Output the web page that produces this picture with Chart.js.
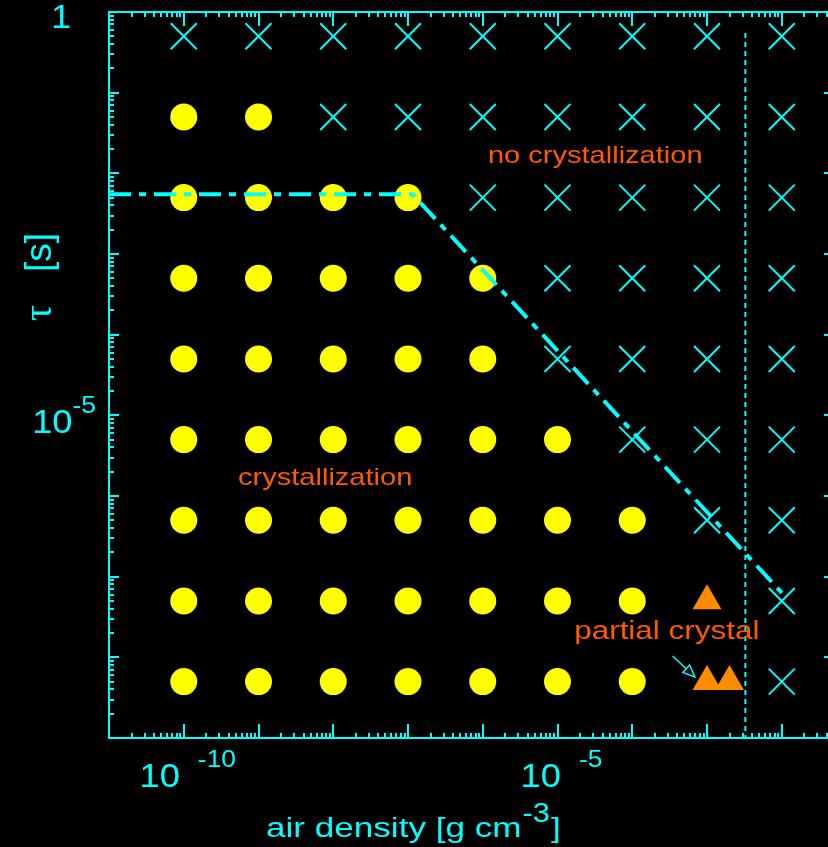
<!doctype html>
<html>
<head>
<meta charset="utf-8">
<title>Crystallization vs air density</title>
<script src="https://cdn.jsdelivr.net/npm/chart.js@4.4.0/dist/chart.umd.min.js"></script>
<style>
html, body { margin: 0; padding: 0; background: #000; overflow: hidden; }
#wrap { width: 850px; height: 847px; }
</style>
</head>
<body>
<div id="wrap"><canvas id="canvas" width="850" height="847"></canvas></div>
<script>
// run grid: densities (g cm^-3) and timescales tau (s)
var densities = [1e-10, 1e-9, 1e-8, 1e-7, 1e-6, 1e-5, 1e-4, 1e-3, 1e-2];
var taus = [5e-1, 5e-2, 5e-3, 5e-4, 5e-5, 5e-6, 5e-7, 5e-8, 5e-9];
// one row per tau, one char per density: o = crystallization, x = none, . = see partial list
var outcomes = [
    'xxxxxxxxx',
    'ooxxxxxxx',
    'ooooxxxxx',
    'oooooxxxx',
    'oooooxxxx',
    'ooooooxxx',
    'oooooooxx',
    'ooooooo.x',
    'ooooooo.x'
];
var partialRho = [1e-3, 1e-3, 2e-3];
var partialTau = [5e-8, 5e-9, 5e-9];

// boundary between the two regimes (dash-dot)
var boundaryRho = [1e-11, 1.15e-7, 1.1e-2];
var boundaryTau = [5.5e-3, 5.5e-3, 5.75e-8];
// dotted vertical line
var markerRho = [3.26e-3, 3.26e-3];
var markerTau = [0.55, 1e-9];

// axis labels
var xLabelValues = [1e-10, 1e-5];
var xLabelExps = ['-10', '-5'];
var yLabelValues = [1, 1e-5];
var yLabelExps = ['', '-5'];

// region labels
var noteTexts = ['no crystallization', 'crystallization', 'partial crystal'];
var noteRho = [3.2e-5, 7.8e-9, 2.9e-4];
var noteTau = [1.6e-2, 1.67e-6, 2.06e-8];
var noteSize = [24, 24, 26];

var CYAN = '#00ffff';
var ORANGE_TEXT = '#ff5a00';
var SANS = '"Liberation Sans", Arial, sans-serif';

function pts(xs, ys) {
    return xs.map(function (x, i) { return { x: x, y: ys[i] }; });
}

var crystalPts = [], nonePts = [];
outcomes.forEach(function (row, r) {
    row.split('').forEach(function (c, k) {
        if (c === 'o') crystalPts.push({ x: densities[k], y: taus[r] });
        if (c === 'x') nonePts.push({ x: densities[k], y: taus[r] });
    });
});

function drawText(ctx, s, x, y, size, align, sx, family) {
    ctx.save();
    ctx.font = size + 'px ' + (family || SANS);
    ctx.translate(x, y);
    ctx.scale(sx || 1, 1);
    ctx.textAlign = align || 'left';
    ctx.fillText(s, 0, 0);
    ctx.restore();
}

function textWidth(ctx, s, size, sx) {
    ctx.save();
    ctx.font = size + 'px ' + SANS;
    var w = ctx.measureText(s).width * (sx || 1);
    ctx.restore();
    return w;
}

var frame = {
    id: 'frame',
    afterDraw: function (chart) {
        var ctx = chart.ctx, a = chart.chartArea;
        var xs = chart.scales.x, ys = chart.scales.y;
        ctx.save();
        ctx.strokeStyle = CYAN;
        ctx.fillStyle = CYAN;
        ctx.lineWidth = 2;
        ctx.strokeRect(a.left, a.top, a.right - a.left, a.bottom - a.top);

        ctx.beginPath();
        var d, m, v, p, len;
        for (d = -11; d <= -1; d++) {
            for (m = 1; m <= 9; m++) {
                v = m * Math.pow(10, d);
                if (v < xs.min * 0.999 || v > xs.max * 1.001) continue;
                p = Math.round(xs.getPixelForValue(v));
                len = m === 1 ? 14 : 5;
                ctx.moveTo(p, a.bottom); ctx.lineTo(p, a.bottom - len);
                ctx.moveTo(p, a.top); ctx.lineTo(p, a.top + len);
            }
        }
        for (d = -9; d <= 0; d++) {
            for (m = 1; m <= 9; m++) {
                v = m * Math.pow(10, d);
                if (v < ys.min * 0.999 || v > ys.max * 1.001) continue;
                p = Math.round(ys.getPixelForValue(v));
                len = m === 1 ? 10 : 5;
                ctx.moveTo(a.left, p); ctx.lineTo(a.left + len, p);
                ctx.moveTo(a.right, p); ctx.lineTo(a.right - len, p);
            }
        }
        ctx.stroke();

        // x tick labels
        ctx.textBaseline = 'alphabetic';
        xLabelValues.forEach(function (val, i) {
            var px = xs.getPixelForValue(val);
            var w10 = textWidth(ctx, '10', 33, 1.1);
            var we = textWidth(ctx, xLabelExps[i], 24, 1.1);
            var left = px + 4 - (w10 + 18 + we) / 2;
            drawText(ctx, '10', left, 787, 33, 'left', 1.1);
            drawText(ctx, xLabelExps[i], left + w10 + 18, 767, 24, 'left', 1.1);
        });
        // y tick labels
        yLabelValues.forEach(function (val, i) {
            var py = ys.getPixelForValue(val);
            if (!yLabelExps[i]) {
                drawText(ctx, '1', 61, py + 16, 33, 'center', 1.1);
            } else {
                var w10 = textWidth(ctx, '10', 33, 1.1);
                var we = textWidth(ctx, yLabelExps[i], 24, 1.1);
                drawText(ctx, '10', 96 - we - w10, py + 18, 33, 'left', 1.1);
                drawText(ctx, yLabelExps[i], 96 - we, py - 2, 24, 'left', 1.1);
            }
        });

        // axis titles
        var wMain = textWidth(ctx, 'air density [g cm', 27, 1.3);
        drawText(ctx, 'air density [g cm', 266, 837, 27, 'left', 1.3);
        var wSup = textWidth(ctx, '-3', 28, 1.1);
        drawText(ctx, '-3', 267 + wMain, 822, 28, 'left', 1.1);
        drawText(ctx, ']', 268 + wMain + wSup, 837, 27, 'left', 1.3);

        ctx.save();
        ctx.translate(51, 321);
        ctx.rotate(-Math.PI / 2);
        drawText(ctx, '\u03c4', 0, 0, 40, 'left', 1, '"Liberation Serif", serif');
        drawText(ctx, '[s]', 49, 0, 37, 'left', 1);
        ctx.restore();

        // region notes
        ctx.fillStyle = ORANGE_TEXT;
        ctx.textBaseline = 'middle';
        noteTexts.forEach(function (t, i) {
            drawText(ctx, t, xs.getPixelForValue(noteRho[i]), ys.getPixelForValue(noteTau[i]), noteSize[i], 'center', 1.21);
        });

        // arrow to the partial runs
        var x0 = xs.getPixelForValue(3.47e-4), y0 = ys.getPixelForValue(1.04e-8);
        var x1 = xs.getPixelForValue(6.9e-4), y1 = ys.getPixelForValue(5.71e-9);
        var ang = Math.atan2(y1 - y0, x1 - x0);
        var hl = 12, hw = 5;
        var bx = x1 - hl * Math.cos(ang), by = y1 - hl * Math.sin(ang);
        ctx.strokeStyle = CYAN;
        ctx.lineWidth = 1.5;
        ctx.beginPath();
        ctx.moveTo(x0, y0); ctx.lineTo(bx, by);
        ctx.moveTo(x1, y1);
        ctx.lineTo(bx + hw * Math.sin(ang), by - hw * Math.cos(ang));
        ctx.lineTo(bx - hw * Math.sin(ang), by + hw * Math.cos(ang));
        ctx.closePath();
        ctx.stroke();
        ctx.restore();
    }
};

var ctx = document.getElementById('canvas').getContext('2d');
new Chart(ctx, {
    type: 'scatter',
    data: {
        datasets: [{
            data: pts(boundaryRho, boundaryTau),
            showLine: true,
            borderColor: CYAN,
            borderWidth: 4,
            borderDash: [22, 8, 7, 8],
            pointRadius: 0
        }, {
            data: pts(markerRho, markerTau),
            showLine: true,
            borderColor: CYAN,
            borderWidth: 2,
            borderDash: [5, 4],
            pointRadius: 0
        }, {
            data: nonePts,
            pointStyle: 'crossRot',
            pointRadius: 18.4,
            borderColor: CYAN,
            borderWidth: 2
        }, {
            data: crystalPts,
            pointStyle: 'circle',
            pointRadius: 13.5,
            backgroundColor: '#ffff00',
            borderWidth: 0
        }, {
            data: pts(partialRho, partialTau),
            pointStyle: 'triangle',
            pointRadius: 16.7,
            backgroundColor: '#ff8c00',
            borderWidth: 0
        }]
    },
    options: {
        responsive: false,
        animation: false,
        events: [],
        layout: { autoPadding: false, padding: { left: 109, top: 12, right: 16, bottom: 109 } },
        plugins: { legend: { display: false }, tooltip: { enabled: false } },
        scales: {
            x: { type: 'logarithmic', min: 1e-11, max: 0.05, display: false },
            y: { type: 'logarithmic', min: 1e-9, max: 1, display: false }
        }
    },
    plugins: [frame]
});
</script>
</body>
</html>
